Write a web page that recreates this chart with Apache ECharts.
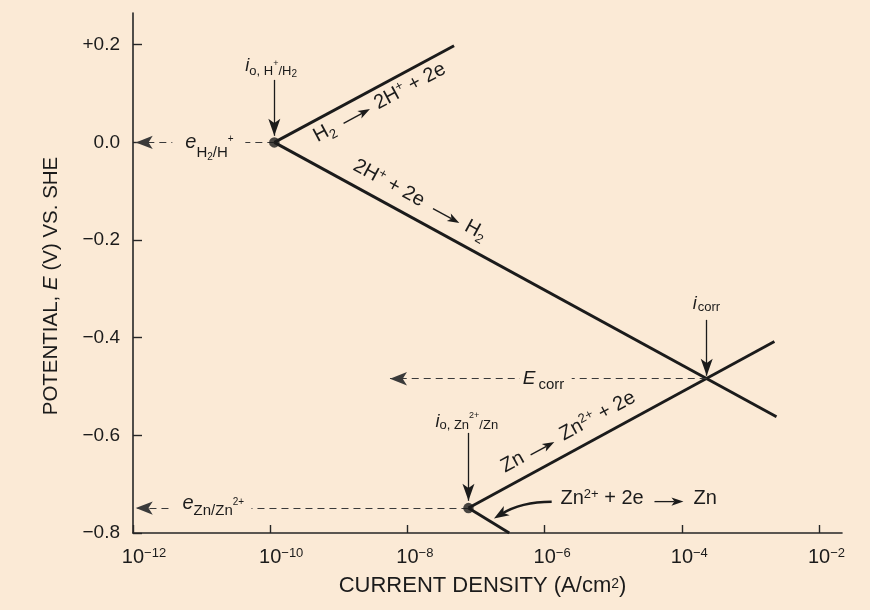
<!DOCTYPE html>
<html><head><meta charset="utf-8">
<script src="https://cdn.jsdelivr.net/npm/echarts@6/dist/echarts.min.js"></script>
<style>html,body{margin:0;padding:0;background:#fbead6;}#c{width:870px;height:610px;}</style>
</head><body><div id="c"></div>
<script>
// ---- data (x = log10 current density in A/cm2, y = potential E in V vs SHE) ----
const xTickExp = [-12, -10, -8, -6, -4, -2];
const yTickV = [-0.8, -0.6, -0.4, -0.2, 0.0, 0.2];
const xMin = -12, xMax = -1.665, yMin = -0.8, yMax = 0.265;

const h2OxLogI = [-9.94, -7.32],  h2OxE = [0.0, 0.198];     // H2 -> 2H+ + 2e
const hRedLogI = [-9.94, -2.62],  hRedE = [0.0, -0.562];    // 2H+ + 2e -> H2
const znOxLogI = [-7.11, -2.65],  znOxE = [-0.749, -0.408]; // Zn -> Zn2+ + 2e
const znRedLogI = [-7.11, -6.515], znRedE = [-0.749, -0.8]; // Zn2+ + 2e -> Zn
const dotLogI = [-9.94, -7.11],   dotE = [0.0, -0.749];     // exchange current densities
const corrLogI = -3.637, corrE = -0.484;                     // i_corr / E_corr

// pointer arrows (vertical) : x, top, tip
const ptrLogI = [-9.94, -3.637, -7.11];
const ptrTopE = [0.128, -0.3635, -0.595];
const ptrTipE = [0.0135, -0.478, -0.734];
// dashed arrows to the potential axis : from x, to x, E
const dashFromLogI = [-9.94, -3.637, -7.11];
const dashToLogI = [-11.96, -8.254, -11.96];
const dashE = [0.0, -0.484, -0.749];
// curved arrow (Zn reduction label)
const curveFrom = [-5.897, -0.7359], curveTo = [-6.738, -0.7703];

// ---- styles ----
const FF = '"Liberation Sans", Arial, Helvetica, sans-serif';
const BG = '#fbead6', INK = '#1b1b1b', AX = '#262626';
const B = 20;
function st(fs, shift, ital, padL) {
  const h = Math.round(fs * 1.2);
  const p = Math.max(0, B - shift - h / 2 + 0.31 * fs);
  return {fontSize: fs, fontFamily: FF, fontStyle: ital ? 'italic' : 'normal',
    height: h, padding: [0, 0, p, padL || 0], verticalAlign: 'bottom'};
}
const pairs = (xs, ys) => xs.map((x, i) => [x, ys[i]]);
const lineSeries = (xs, ys) => ({type: 'line', data: pairs(xs, ys), symbol: 'none', silent: true,
  lineStyle: {color: INK, width: 2.9}, z: 3, animation: false});

const option = {
  backgroundColor: BG,
  animation: false,
  grid: {left: 133, right: 28, top: 13, bottom: 77, outerBoundsMode: 'none'},
  xAxis: {
    type: 'value', min: xMin, max: xMax,
    axisLine: {show: true, onZero: false, lineStyle: {color: AX, width: 1.6}},
    axisTick: {show: true, inside: true, length: 8, customValues: xTickExp, lineStyle: {color: AX, width: 1.4}},
    splitLine: {show: false},
    axisLabel: {
      customValues: xTickExp, margin: 12, color: INK,
      formatter: v => { const k = Math.round(-v); return '{' + (k >= 10 ? 'w2' : 'w1') + '| }{b|10}{e|\u2212' + k + '}'; },
      rich: {w1: {width: 15, fontSize: 1}, w2: {width: 22, fontSize: 1}, b: st(20, 0), e: st(13, -5.5)}
    },
    name: '{n|CURRENT DENSITY (A/cm}{s|2}{n|)}', nameLocation: 'middle', nameGap: 40,
    nameTextStyle: {color: INK, padding: [0, 10, 0, 0], rich: {n: st(22, 0), s: st(14, -4)}}
  },
  yAxis: {
    type: 'value', min: yMin, max: yMax,
    axisLine: {show: true, onZero: false, lineStyle: {color: AX, width: 1.6}},
    axisTick: {show: true, inside: true, length: 9, customValues: yTickV, lineStyle: {color: AX, width: 1.4}},
    splitLine: {show: false},
    axisLabel: {
      customValues: yTickV, margin: 13, color: INK, fontSize: 19, fontFamily: FF,
      formatter: v => Math.abs(v) < 1e-9 ? '0.0' : (v > 0 ? '+' + v.toFixed(1) : '\u2212' + (-v).toFixed(1))
    },
    name: 'POTENTIAL, {i|E} (V) VS. SHE', nameLocation: 'middle', nameGap: 71,
    nameTextStyle: {color: INK, fontSize: 20.5, fontFamily: FF, padding: [0, 26, 0, 0],
      rich: {i: {fontSize: 20.5, fontFamily: FF, fontStyle: 'italic'}}}
  },
  series: [
    lineSeries(h2OxLogI, h2OxE),
    lineSeries(hRedLogI, hRedE),
    lineSeries(znOxLogI, znOxE),
    lineSeries(znRedLogI, znRedE),
    {type: 'scatter', data: pairs(dotLogI, dotE), symbolSize: 10.5, itemStyle: {color: INK}, silent: true, z: 5},
    {type: 'line', data: [], silent: true, markLine: {
      silent: true, animation: false, symbol: ['none', 'arrow'], symbolSize: [9, 17], label: {show: false},
      lineStyle: {color: INK, width: 1.3, type: 'solid'}, emphasis: {disabled: true},
      data: ptrLogI.map((x, i) => [{coord: [x, ptrTopE[i]]}, {coord: [x, ptrTipE[i]]}])
    }},
    {type: 'line', data: [], silent: true, markLine: {
      silent: true, animation: false, symbol: ['none', 'arrow'], symbolSize: [10, 17], label: {show: false},
      lineStyle: {color: '#3a3a3a', width: 1.2, type: [7, 5]}, emphasis: {disabled: true},
      data: dashFromLogI.map((x, i) => [{coord: [x, dashE[i]]}, {coord: [dashToLogI[i], dashE[i]]}])
    }}
  ]
};

const chart = echarts.init(document.getElementById('c'), null, {renderer: 'canvas'});
chart.setOption(option);

const P = (x, y) => chart.convertToPixel({gridIndex: 0}, [x, y]);
const R = {
  n: st(20, 0), nsb: st(13, 4), nsp: st(13, -7),
  i: st(18, 0, true), is: st(13, 4), isp: st(9, -5), iss: st(10, 6), isz: st(13, 2), ispz: st(9, -10),
  e: st(20, 0, true), es: st(15, 9), ess: st(10, 12), esp: st(10, -6),
  ez: st(15, 5), ezsp: st(10, -5),
  E: st(19, 0, true), Es: st(15, 5, false, 3),
  ic: st(13, 2, false, 1)
};
function T(x, baseline, text) {
  return {type: 'text', x: x, y: baseline + B, z: 60, silent: true,
    style: {text: text, rich: R, fill: INK, align: 'left', verticalAlign: 'bottom', fontFamily: FF, fontSize: 18}};
}
function ARW(x0, x1, y) {
  const hl = 12, hw = 4.2;
  return [
    {type: 'line', z: 60, silent: true, shape: {x1: x0, y1: y, x2: x1 - hl + 3, y2: y}, style: {stroke: INK, lineWidth: 1.3}},
    {type: 'polygon', z: 60, silent: true, shape: {points: [[x1 - hl, y - hw], [x1, y], [x1 - hl, y + hw], [x1 - hl + 3, y]]}, style: {fill: INK}}
  ];
}
function MASK(x0, x1, y) {
  return {type: 'rect', z: 55, silent: true, shape: {x: x0, y: y - 3, width: x1 - x0, height: 6}, style: {fill: BG}};
}
function rotGroup(p0, p1, children) {
  const ang = Math.atan2(-(p1[1] - p0[1]), p1[0] - p0[0]);
  return {type: 'group', x: p0[0], y: p0[1], rotation: ang, children: children};
}

const hDot = P(dotLogI[0], dotE[0]), zDot = P(dotLogI[1], dotE[1]);
const corr = P(corrLogI, corrE);
const hOxEnd = P(h2OxLogI[1], h2OxE[1]), hRedEnd = P(hRedLogI[1], hRedE[1]), zOxEnd = P(znOxLogI[1], znOxE[1]);
const pH = P(ptrLogI[0], ptrTopE[0]), pC = P(ptrLogI[1], ptrTopE[1]), pZ = P(ptrLogI[2], ptrTopE[2]);

const els = [];
// reaction labels along the branches
els.push(rotGroup(hDot, hOxEnd, [T(38, 21, '{n|H}{nsb|2}')].concat(ARW(70, 100, 16), [T(107, 21, '{n|2H}{nsp|+}{n| + 2e}')])));
els.push(rotGroup(hDot, hRedEnd, [T(81, -13, '{n|2H}{nsp|+}{n| + 2e}')].concat(ARW(171, 201, -18), [T(208, -13, '{n|H}{nsb|2}')])));
els.push(rotGroup(zDot, zOxEnd, [T(49, -13, '{n|Zn}')].concat(ARW(80, 107, -17), [T(116, -13, '{n|Zn}{nsp|2+}{n| + 2e}')])));
// Zn reduction label (horizontal)
els.push({type: 'group', x: zDot[0], y: zDot[1], children: [T(92, -3, '{n|Zn}{nsp|2+}{n| + 2e}')].concat(ARW(186, 215, -6.5), [T(225, -3, '{n|Zn}')])});
// curved arrow pointing at the Zn reduction branch
(function () {
  const cf = P(curveFrom[0], curveFrom[1]), ct = P(curveTo[0], curveTo[1]);
  const cp = [cf[0] - 0.53 * (cf[0] - ct[0]), cf[1]];
  let dx = ct[0] - cp[0], dy = ct[1] - cp[1];
  const L = Math.hypot(dx, dy); dx /= L; dy /= L;
  const nx = -dy, ny = dx, hl = 15, hw = 5.5;
  const bx = ct[0] - dx * hl, by = ct[1] - dy * hl;
  els.push({type: 'bezierCurve', z: 58, silent: true,
    shape: {x1: cf[0], y1: cf[1], x2: ct[0] - dx * 8, y2: ct[1] - dy * 8, cpx1: cp[0], cpy1: cp[1]},
    style: {stroke: INK, lineWidth: 2.4, fill: null}});
  els.push({type: 'polygon', z: 59, silent: true,
    shape: {points: [[bx + nx * hw, by + ny * hw], ct, [bx - nx * hw, by - ny * hw], [ct[0] - dx * 11, ct[1] - dy * 11]]},
    style: {fill: INK}});
})();
// exchange / corrosion current labels
els.push({type: 'group', x: pH[0], y: pH[1], children: [T(-29, -8.7, '{i|i}{is|o, H}{isp|+}{is|/H}{iss|2}')]});
els.push({type: 'group', x: pZ[0], y: pZ[1], children: [T(-33, -5, '{i|i}{isz|o, Zn}{ispz|2+}{isz|/Zn}')]});
els.push({type: 'group', x: pC[0], y: pC[1], children: [T(-14, -10, '{i|i}{ic|corr}')]});
// potential labels on the dashed lines
els.push({type: 'group', x: hDot[0], y: hDot[1], children: [MASK(-102, -29, 0), T(-89, 6, '{e|e}{es|H}{ess|2}{es|/H}{esp|+}')]});
els.push({type: 'group', x: zDot[0], y: zDot[1], children: [MASK(-296, -217, 0), T(-286, 2, '{e|e}{ez|Zn/Zn}{ezsp|2+}')]});
els.push({type: 'group', x: corr[0], y: corr[1], children: [MASK(-187, -135, 0), T(-184, 6, '{E|E}{Es|corr}')]});

chart.setOption({graphic: {elements: els}});
</script></body></html>
